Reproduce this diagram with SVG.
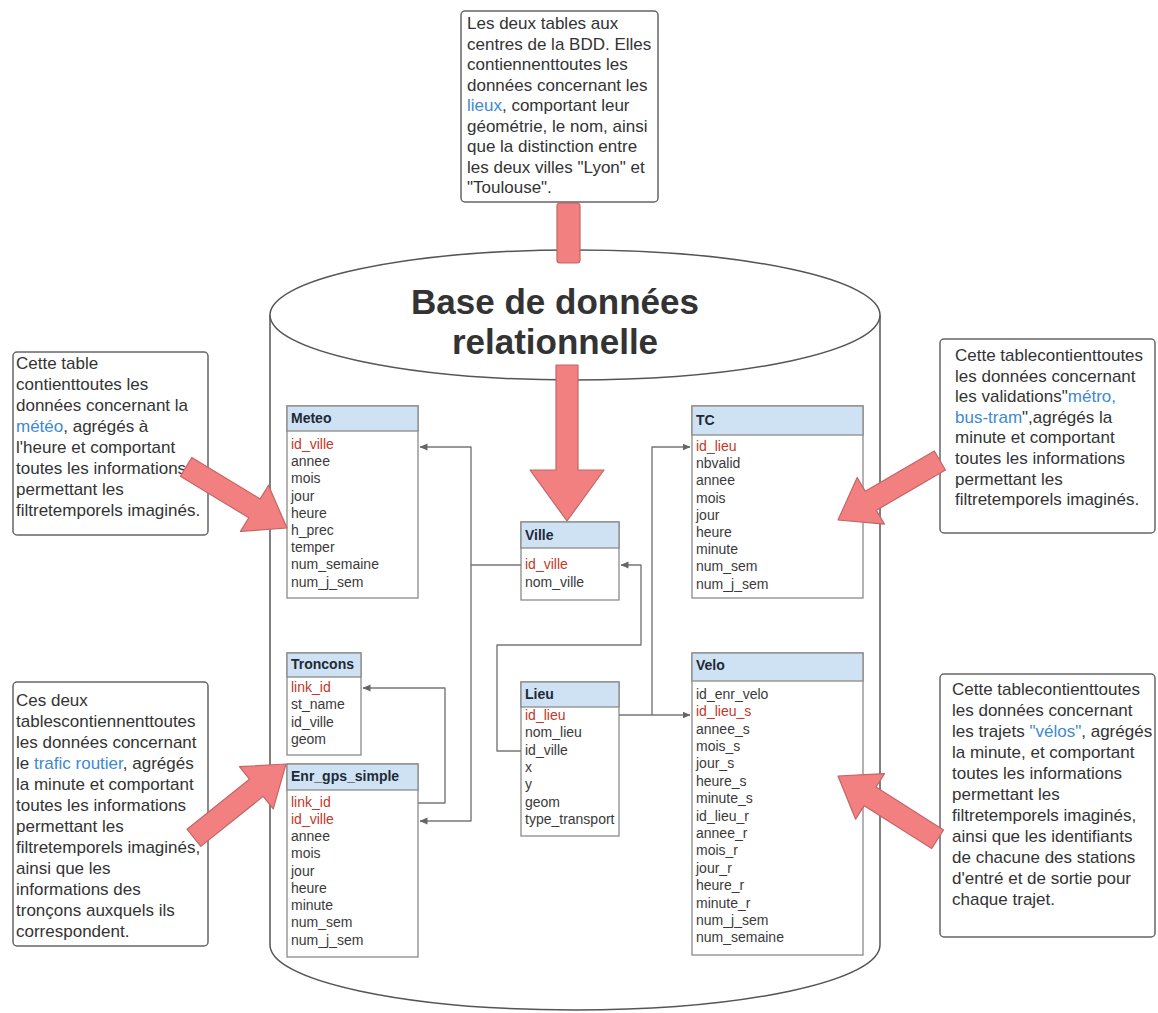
<svg xmlns="http://www.w3.org/2000/svg" width="1158" height="1013" viewBox="0 0 1158 1013">
<style>
text{font-family:"Liberation Sans",Arial,sans-serif}
.cyl{fill:#fff;stroke:#555;stroke-width:1.5}
.title{font-size:35px;font-weight:bold;fill:#333;text-anchor:middle}
.box{fill:#fff;stroke:#666;stroke-width:1.5}
.desc{font-size:17px;fill:#333}
.blue{fill:#3d8ad0}
.bd{fill:#fff;stroke:#8a8a8a;stroke-width:1.3}
.hd{fill:#cfe2f3;stroke:#8a8a8a;stroke-width:1.3}
.tt{font-size:14px;font-weight:bold;fill:#1e2a38}
.fld{font-size:14px;fill:#3a3a3a}
.key{fill:#c0392b}
.conn{fill:none;stroke:#777;stroke-width:1.4;stroke-linejoin:round}
.pa{fill:#f28080;stroke:#c46565;stroke-width:1.2;stroke-linejoin:round}
</style>
<defs>
<marker id="ah" markerWidth="8" markerHeight="8" refX="7.5" refY="4" orient="auto" markerUnits="userSpaceOnUse"><path d="M0,0.5 L8,4 L0,7.5 Z" fill="#666"/></marker>
<path id="parr" d="M0,-11 H80 V-27 L118,0 L80,27 V11 H0 Z"/>
</defs>

<g id="cylinder">
<path class="cyl" d="M270,315 V945 A305,65 0 0 0 880,945 V315"/>
<ellipse class="cyl" cx="575" cy="315" rx="305" ry="65"/>
<text class="title" x="555" y="314">Base de données</text>
<text class="title" x="555" y="354">relationnelle</text>
</g>

<g id="pink-arrows-center">
<rect class="pa" x="557" y="203" width="23" height="60" rx="3"/>
<path class="pa" d="M556,365 H578 V470 H604 L567,521 L530,470 H556 Z"/>
</g>

<g id="meteo">
<rect class="bd" x="287" y="406" width="131" height="192"/>
<rect class="hd" x="287" y="406" width="131" height="25"/>
<text class="tt" x="291" y="423">Meteo</text>
<text class="fld"><tspan class="key" x="291" y="449">id_ville</tspan><tspan x="291" y="466">annee</tspan><tspan x="291" y="483">mois</tspan><tspan x="291" y="501">jour</tspan><tspan x="291" y="518">heure</tspan><tspan x="291" y="535">h_prec</tspan><tspan x="291" y="552">temper</tspan><tspan x="291" y="569">num_semaine</tspan><tspan x="291" y="587">num_j_sem</tspan></text>
</g>

<g id="tc">
<rect class="bd" x="692" y="406" width="171" height="192"/>
<rect class="hd" x="692" y="406" width="171" height="29"/>
<text class="tt" x="696" y="425">TC</text>
<text class="fld"><tspan class="key" x="696" y="451">id_lieu</tspan><tspan x="696" y="468">nbvalid</tspan><tspan x="696" y="485">annee</tspan><tspan x="696" y="503">mois</tspan><tspan x="696" y="520">jour</tspan><tspan x="696" y="537">heure</tspan><tspan x="696" y="554">minute</tspan><tspan x="696" y="571">num_sem</tspan><tspan x="696" y="589">num_j_sem</tspan></text>
</g>

<g id="ville">
<rect class="bd" x="521" y="522" width="98" height="78"/>
<rect class="hd" x="521" y="522" width="98" height="26"/>
<text class="tt" x="525" y="540">Ville</text>
<text class="fld"><tspan class="key" x="525" y="569">id_ville</tspan><tspan x="525" y="587">nom_ville</tspan></text>
</g>

<g id="troncons">
<rect class="bd" x="287" y="653" width="74" height="102"/>
<rect class="hd" x="287" y="653" width="74" height="24"/>
<text class="tt" x="291" y="669">Troncons</text>
<text class="fld"><tspan class="key" x="291" y="692">link_id</tspan><tspan x="291" y="709">st_name</tspan><tspan x="291" y="727">id_ville</tspan><tspan x="291" y="744">geom</tspan></text>
</g>

<g id="enr_gps_simple">
<rect class="bd" x="287" y="764" width="131" height="193"/>
<rect class="hd" x="287" y="764" width="131" height="26"/>
<text class="tt" x="291" y="781">Enr_gps_simple</text>
<text class="fld"><tspan class="key" x="291" y="807">link_id</tspan><tspan class="key" x="291" y="824">id_ville</tspan><tspan x="291" y="841">annee</tspan><tspan x="291" y="858">mois</tspan><tspan x="291" y="876">jour</tspan><tspan x="291" y="893">heure</tspan><tspan x="291" y="910">minute</tspan><tspan x="291" y="927">num_sem</tspan><tspan x="291" y="945">num_j_sem</tspan></text>
</g>

<g id="lieu">
<rect class="bd" x="521" y="682" width="98" height="154"/>
<rect class="hd" x="521" y="682" width="98" height="25"/>
<text class="tt" x="525" y="699">Lieu</text>
<text class="fld"><tspan class="key" x="525" y="720">id_lieu</tspan><tspan x="525" y="737">nom_lieu</tspan><tspan x="525" y="755">id_ville</tspan><tspan x="525" y="772">x</tspan><tspan x="525" y="789">y</tspan><tspan x="525" y="807">geom</tspan><tspan x="525" y="824">type_transport</tspan></text>
</g>

<g id="velo">
<rect class="bd" x="692" y="653" width="171" height="302"/>
<rect class="hd" x="692" y="653" width="171" height="28"/>
<text class="tt" x="696" y="670">Velo</text>
<text class="fld"><tspan x="696" y="699">id_enr_velo</tspan><tspan class="key" x="696" y="716">id_lieu_s</tspan><tspan x="696" y="734">annee_s</tspan><tspan x="696" y="751">mois_s</tspan><tspan x="696" y="768">jour_s</tspan><tspan x="696" y="786">heure_s</tspan><tspan x="696" y="803">minute_s</tspan><tspan x="696" y="821">id_lieu_r</tspan><tspan x="696" y="838">annee_r</tspan><tspan x="696" y="855">mois_r</tspan><tspan x="696" y="873">jour_r</tspan><tspan x="696" y="890">heure_r</tspan><tspan x="696" y="908">minute_r</tspan><tspan x="696" y="925">num_j_sem</tspan><tspan x="696" y="942">num_semaine</tspan></text>
</g>

<g id="connectors">
<path class="conn" d="M521,565 H471 V447 H420" marker-end="url(#ah)"/>
<path class="conn" d="M471,565 V821 H420" marker-end="url(#ah)"/>
<path class="conn" d="M418,803 H445 V688 H363" marker-end="url(#ah)"/>
<path class="conn" d="M521,751 H497 V645 H641 V565 H621" marker-end="url(#ah)"/>
<path class="conn" d="M619,715 H652 V447 H690" marker-end="url(#ah)"/>
<path class="conn" d="M652,715 H690" marker-end="url(#ah)"/>
</g>

<g id="note-top">
<rect class="box" x="461" y="11" width="197" height="191" rx="4"/>
<text class="desc"><tspan x="467" y="29">Les deux tables aux</tspan><tspan x="467" y="49.5">centres de la BDD. Elles</tspan><tspan x="467" y="70">contiennenttoutes les</tspan><tspan x="467" y="90.5">données concernant les</tspan><tspan x="467" y="111"><tspan class="blue">lieux</tspan>, comportant leur</tspan><tspan x="467" y="131.5">géométrie, le nom, ainsi</tspan><tspan x="467" y="152">que la distinction entre</tspan><tspan x="467" y="172.5">les deux villes "Lyon" et</tspan><tspan x="467" y="193">"Toulouse".</tspan></text>
</g>

<g id="note-meteo">
<rect class="box" x="13" y="352" width="195" height="183" rx="4"/>
<text class="desc"><tspan x="16" y="369">Cette table</tspan><tspan x="16" y="390">contienttoutes les</tspan><tspan x="16" y="411">données concernant la</tspan><tspan x="16" y="432"><tspan class="blue">météo</tspan>, agrégés à</tspan><tspan x="16" y="453">l'heure et comportant</tspan><tspan x="16" y="474">toutes les informations</tspan><tspan x="16" y="495">permettant les</tspan><tspan x="16" y="516">filtretemporels imaginés.</tspan></text>
</g>

<g id="note-tc">
<rect class="box" x="940" y="339" width="215" height="194" rx="4"/>
<text class="desc"><tspan x="955" y="361">Cette tablecontienttoutes</tspan><tspan x="955" y="381.6">les données concernant</tspan><tspan x="955" y="402.2">les validations"<tspan class="blue">métro,</tspan></tspan><tspan x="955" y="422.8"><tspan class="blue">bus-tram</tspan>",agrégés la</tspan><tspan x="955" y="443.4">minute et comportant</tspan><tspan x="955" y="464">toutes les informations</tspan><tspan x="955" y="484.6">permettant les</tspan><tspan x="955" y="505.2">filtretemporels imaginés.</tspan></text>
</g>

<g id="note-trafic">
<rect class="box" x="13" y="682" width="195" height="264" rx="4"/>
<text class="desc"><tspan x="16" y="706">Ces deux</tspan><tspan x="16" y="727">tablescontiennenttoutes</tspan><tspan x="16" y="748">les données concernant</tspan><tspan x="16" y="769">le <tspan class="blue">trafic routier</tspan>, agrégés</tspan><tspan x="16" y="790">la minute et comportant</tspan><tspan x="16" y="811">toutes les informations</tspan><tspan x="16" y="832">permettant les</tspan><tspan x="16" y="853">filtretemporels imaginés,</tspan><tspan x="16" y="874">ainsi que les</tspan><tspan x="16" y="895">informations des</tspan><tspan x="16" y="916">tronçons auxquels ils</tspan><tspan x="16" y="937">correspondent.</tspan></text>
</g>

<g id="note-velo">
<rect class="box" x="940" y="674" width="215" height="263" rx="4"/>
<text class="desc"><tspan x="952" y="695">Cette tablecontienttoutes</tspan><tspan x="952" y="716">les données concernant</tspan><tspan x="952" y="737">les trajets <tspan class="blue">"vélos"</tspan>, agrégés</tspan><tspan x="952" y="758">la minute, et comportant</tspan><tspan x="952" y="779">toutes les informations</tspan><tspan x="952" y="800">permettant les</tspan><tspan x="952" y="821">filtretemporels imaginés,</tspan><tspan x="952" y="842">ainsi que les identifiants</tspan><tspan x="952" y="863">de chacune des stations</tspan><tspan x="952" y="884">d'entré et de sortie pour</tspan><tspan x="952" y="905">chaque trajet.</tspan></text>
</g>

<g id="pink-arrows-side">
<use href="#parr" class="pa" transform="translate(287,528) rotate(31.2) translate(-118,0)"/>
<use href="#parr" class="pa" transform="translate(286,764) rotate(-38.7) translate(-118,0)"/>
<use href="#parr" class="pa" transform="translate(838,520) rotate(149.7) translate(-118,0)"/>
<use href="#parr" class="pa" transform="translate(838,776) rotate(-147.6) translate(-118,0)"/>
</g>
</svg>
